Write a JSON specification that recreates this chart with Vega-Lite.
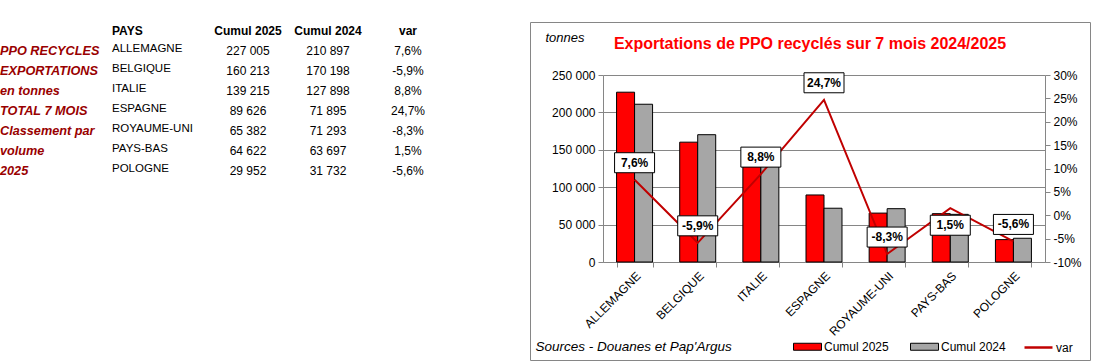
{
  "$schema": "https://vega.github.io/schema/vega-lite/v6.json",
  "padding": {"left": 0, "top": 21, "right": 0, "bottom": 0},
  "background": "white",
  "datasets": {
    "pays": [
      {"rang": 1, "pays": "ALLEMAGNE", "Cumul 2025": 227005, "Cumul 2024": 210897, "var": 0.076},
      {"rang": 2, "pays": "BELGIQUE", "Cumul 2025": 160213, "Cumul 2024": 170198, "var": -0.059},
      {"rang": 3, "pays": "ITALIE", "Cumul 2025": 139215, "Cumul 2024": 127898, "var": 0.088},
      {"rang": 4, "pays": "ESPAGNE", "Cumul 2025": 89626, "Cumul 2024": 71895, "var": 0.247},
      {"rang": 5, "pays": "ROYAUME-UNI", "Cumul 2025": 65382, "Cumul 2024": 71293, "var": -0.083},
      {"rang": 6, "pays": "PAYS-BAS", "Cumul 2025": 64622, "Cumul 2024": 63697, "var": 0.015},
      {"rang": 7, "pays": "POLOGNE", "Cumul 2025": 29952, "Cumul 2024": 31732, "var": -0.056}
    ],
    "gauche": [
      {"rang": 1, "texte": "PPO RECYCLES"},
      {"rang": 2, "texte": "EXPORTATIONS"},
      {"rang": 3, "texte": "en tonnes"},
      {"rang": 4, "texte": "TOTAL 7 MOIS"},
      {"rang": 5, "texte": "Classement par"},
      {"rang": 6, "texte": "volume"},
      {"rang": 7, "texte": "2025"}
    ],
    "entetes": [{"col": "Cumul 2025"}, {"col": "Cumul 2024"}, {"col": "var"}]
  },
  "config": {
    "font": "Liberation Sans",
    "view": {"stroke": null},
    "locale": {"number": {"decimal": ",", "thousands": " ", "grouping": [3], "currency": ["", " €"], "minus": "-"}},
    "axis": {"domainColor": "#868686", "tickColor": "#868686", "gridColor": "#868686", "labelColor": "black", "labelFontSize": 12, "labelFont": "Liberation Sans"},
    "text": {"color": "black"}
  },
  "resolve": {"legend": {"color": "independent", "stroke": "independent"}},
  "spacing": 80,
  "hconcat": [
    {
      "spacing": 0,
      "hconcat": [
        {
          "width": 112, "height": 160,
          "data": {"name": "gauche"},
          "mark": {"type": "text", "align": "left", "baseline": "middle", "fontSize": 12.7, "fontWeight": "bold", "fontStyle": "italic", "color": "#990000", "dy": -1},
          "encoding": {
            "x": {"datum": "g", "type": "nominal", "bandPosition": 0, "axis": null, "scale": {"type": "band", "paddingInner": 0, "paddingOuter": 0}},
            "y": {"field": "rang", "type": "ordinal", "axis": null, "scale": {"type": "band", "domain": [0, 1, 2, 3, 4, 5, 6, 7], "paddingInner": 0, "paddingOuter": 0}},
            "text": {"field": "texte", "type": "nominal"}
          }
        },
        {
          "width": 96, "height": 160,
          "layer": [
            {
              "data": {"values": [{"entete": "PAYS"}]},
              "mark": {"type": "text", "align": "left", "baseline": "middle", "fontSize": 12, "fontWeight": "bold", "dy": -1},
              "encoding": {
                "x": {"datum": "p", "type": "nominal", "bandPosition": 0, "axis": null, "scale": {"type": "band", "paddingInner": 0, "paddingOuter": 0}},
                "y": {"datum": 0, "type": "ordinal", "axis": null, "scale": {"type": "band", "domain": [0, 1, 2, 3, 4, 5, 6, 7], "paddingInner": 0, "paddingOuter": 0}},
                "text": {"field": "entete", "type": "nominal"}
              }
            },
            {
              "data": {"name": "pays"},
              "mark": {"type": "text", "align": "left", "baseline": "middle", "fontSize": 11.5, "dy": -3},
              "encoding": {
                "x": {"datum": "p", "type": "nominal", "bandPosition": 0, "axis": null},
                "y": {"field": "rang", "type": "ordinal", "axis": null},
                "text": {"field": "pays", "type": "nominal"}
              }
            }
          ]
        },
        {
          "width": 240, "height": 160,
          "layer": [
            {
              "data": {"name": "entetes"},
              "mark": {"type": "text", "baseline": "middle", "fontSize": 12, "fontWeight": "bold", "dy": -1},
              "encoding": {
                "x": {"field": "col", "type": "nominal", "axis": null, "scale": {"type": "band", "domain": ["Cumul 2025", "Cumul 2024", "var"], "paddingInner": 0, "paddingOuter": 0}},
                "y": {"datum": 0, "type": "ordinal", "axis": null, "scale": {"type": "band", "domain": [0, 1, 2, 3, 4, 5, 6, 7], "paddingInner": 0, "paddingOuter": 0}},
                "text": {"field": "col", "type": "nominal"}
              }
            },
            {
              "data": {"name": "pays"},
              "mark": {"type": "text", "baseline": "middle", "fontSize": 12, "dy": -1},
              "encoding": {
                "x": {"datum": "Cumul 2025", "type": "nominal", "axis": null},
                "y": {"field": "rang", "type": "ordinal", "axis": null},
                "text": {"field": "Cumul 2025", "type": "quantitative", "format": ",.0f"}
              }
            },
            {
              "data": {"name": "pays"},
              "mark": {"type": "text", "baseline": "middle", "fontSize": 12, "dy": -1},
              "encoding": {
                "x": {"datum": "Cumul 2024", "type": "nominal", "axis": null},
                "y": {"field": "rang", "type": "ordinal", "axis": null},
                "text": {"field": "Cumul 2024", "type": "quantitative", "format": ",.0f"}
              }
            },
            {
              "data": {"name": "pays"},
              "mark": {"type": "text", "baseline": "middle", "fontSize": 12, "dy": -1},
              "encoding": {
                "x": {"datum": "var", "type": "nominal", "axis": null},
                "y": {"field": "rang", "type": "ordinal", "axis": null},
                "text": {"field": "var", "type": "quantitative", "format": ".1%"}
              }
            }
          ]
        }
      ]
    },
    {
      "width": 560, "height": 338,
      "view": {"stroke": "#868686", "strokeWidth": 1},
      "title": {"text": "Exportations de PPO recyclés sur 7 mois 2024/2025", "color": "#FF0000", "fontSize": 16, "fontWeight": "bold", "anchor": "middle", "frame": "group", "baseline": "middle", "offset": -38},
      "data": {"name": "pays"},
      "resolve": {"scale": {"y": "independent"}},
      "layer": [
        {
          "transform": [{"fold": ["Cumul 2025", "Cumul 2024"], "as": ["serie", "tonnes"]}],
          "mark": {"type": "bar", "stroke": "black", "strokeWidth": 1},
          "encoding": {
            "x": {
              "field": "pays", "type": "nominal",
              "scale": {"domain": ["ALLEMAGNE", "BELGIQUE", "ITALIE", "ESPAGNE", "ROYAUME-UNI", "PAYS-BAS", "POLOGNE"], "range": [73, 515], "paddingInner": 0.43, "paddingOuter": 0.215},
              "axis": {"orient": "bottom", "offset": -98, "labelAngle": -45, "tickBand": "extent", "tickSize": 5, "labelPadding": 3, "grid": false,
                "title": "Sources - Douanes et Pap'Argus", "titleX": 5, "titleY": 84, "titleAlign": "left", "titleBaseline": "middle", "titleAngle": 0,
                "titleFontStyle": "italic", "titleFontWeight": "normal", "titleFontSize": 13.5, "titleColor": "black"}
            },
            "xOffset": {"field": "serie", "type": "nominal", "scale": {"domain": ["Cumul 2025", "Cumul 2024"], "paddingInner": 0, "paddingOuter": 0}},
            "y": {
              "field": "tonnes", "type": "quantitative",
              "scale": {"domain": [0, 250000], "range": [240, 53], "nice": false, "zero": true},
              "axis": {"orient": "left", "offset": -73, "values": [0, 50000, 100000, 150000, 200000, 250000], "format": ",.0f", "grid": true, "tickSize": 5, "labelPadding": 3,
                "title": "tonnes", "titleAngle": 0, "titleAlign": "left", "titleBaseline": "middle", "titleX": -58, "titleY": 15,
                "titleFontStyle": "italic", "titleFontWeight": "normal", "titleFontSize": 13, "titleColor": "black"}
            },
            "color": {
              "field": "serie", "type": "nominal",
              "scale": {"domain": ["Cumul 2025", "Cumul 2024"], "range": ["#FF0000", "#A6A6A6"]},
              "legend": {
                "orient": "none", "legendX": 263, "legendY": 310, "direction": "horizontal", "title": null,
                "symbolType": "M-1,-0.25H1V0.25H-1Z", "symbolSize": 784, "symbolStrokeColor": "black", "symbolStrokeWidth": 1, "symbolOpacity": 1,
                "labelOffset": 2, "columnPadding": 19, "labelFontSize": 12, "labelColor": "black"
              }
            }
          }
        },
        {
          "encoding": {
            "x": {"field": "pays", "type": "nominal"},
            "y": {
              "field": "var", "type": "quantitative",
              "scale": {"domain": [-0.1, 0.3], "range": [240, 53], "nice": false, "zero": false},
              "axis": {"orient": "right", "offset": -45, "values": [-0.1, -0.05, 0, 0.05, 0.1, 0.15, 0.2, 0.25, 0.3], "format": ".0%", "grid": false, "tickSize": 5, "labelPadding": 3, "title": null}
            }
          },
          "layer": [
            {
              "mark": {"type": "line", "strokeWidth": 2},
              "encoding": {
                "stroke": {
                  "datum": "var", "type": "nominal",
                  "scale": {"domain": ["var"], "range": ["#C00000"]},
                  "legend": {
                    "orient": "none", "legendX": 493, "legendY": 310, "direction": "horizontal", "title": null,
                    "symbolType": "stroke", "symbolSize": 784, "symbolStrokeWidth": 2.5,
                    "labelOffset": 2, "labelFontSize": 12, "labelColor": "black"
                  }
                }
              }
            },
            {
              "transform": [{"filter": "datum.pays !== 'PAYS-BAS'"}],
              "mark": {"type": "point", "shape": "M-1,-0.5H1V0.5H-1Z", "size": 1600, "filled": true, "fill": "white", "stroke": "black", "strokeWidth": 1, "opacity": 1, "yOffset": -17}
            },
            {
              "transform": [{"filter": "datum.pays !== 'PAYS-BAS'"}],
              "mark": {"type": "text", "fontWeight": "bold", "fontSize": 12, "baseline": "middle", "yOffset": -17},
              "encoding": {"text": {"field": "var", "type": "quantitative", "format": ".1%"}}
            },
            {
              "transform": [{"filter": "datum.pays === 'PAYS-BAS'"}],
              "mark": {"type": "point", "shape": "M-1,-0.5H1V0.5H-1Z", "size": 1600, "filled": true, "fill": "white", "stroke": "black", "strokeWidth": 1, "opacity": 1, "yOffset": 17}
            },
            {
              "transform": [{"filter": "datum.pays === 'PAYS-BAS'"}],
              "mark": {"type": "text", "fontWeight": "bold", "fontSize": 12, "baseline": "middle", "yOffset": 17},
              "encoding": {"text": {"field": "var", "type": "quantitative", "format": ".1%"}}
            }
          ]
        }
      ]
    }
  ]
}
